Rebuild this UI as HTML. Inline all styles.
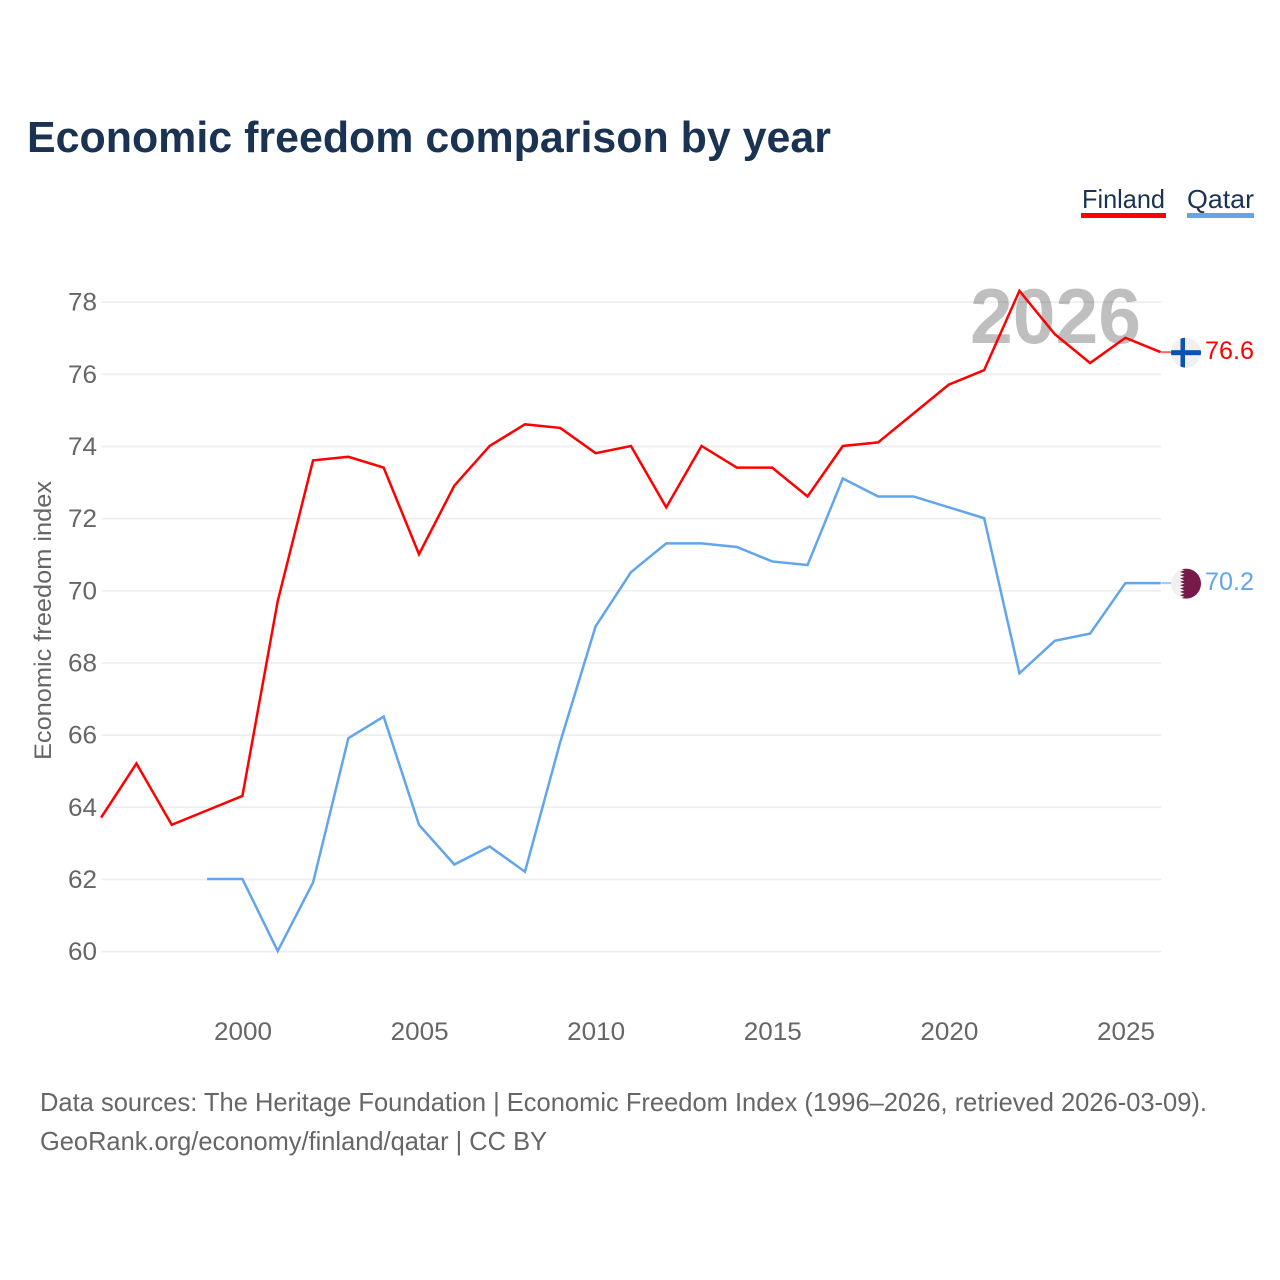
<!DOCTYPE html>
<html lang="en">
<head>
<meta charset="utf-8">
<title>Economic freedom comparison by year</title>
<style>
html,body{margin:0;padding:0;background:#fff;}
svg{display:block;font-family:"Liberation Sans",Arial,sans-serif;}
</style>
</head>
<body>
<svg id="chart" width="1280" height="1280" viewBox="0 0 1280 1280" xmlns="http://www.w3.org/2000/svg">
  <defs>
    <clipPath id="flag-clip"><circle cx="0" cy="0" r="15"></circle></clipPath>
  </defs>
  <rect x="0" y="0" width="1280" height="1280" fill="#ffffff"></rect>
  <text x="27" y="152" font-size="44" font-weight="700" fill="#1a3353" textLength="804" lengthAdjust="spacingAndGlyphs">Economic freedom comparison by year</text>
  <g id="grid"></g>
  <text x="970" y="343" font-size="78" font-weight="700" fill="#000000" fill-opacity="0.25" textLength="171" lengthAdjust="spacingAndGlyphs">2026</text>
  <g id="y-axis"></g>
  <g id="x-axis"></g>
  <text transform="translate(51,620.5) rotate(-90)" text-anchor="middle" font-size="24" fill="#666666" textLength="279" lengthAdjust="spacingAndGlyphs">Economic freedom index</text>
  <g id="series" transform="translate(-0.6,-0.5)"></g>
  <g id="end-markers"></g>
  <g>
    <g>
      <text x="1082" y="208" font-size="26" fill="#1a3353" textLength="83" lengthAdjust="spacingAndGlyphs">Finland</text>
      <rect x="1081" y="213" width="85" height="5" fill="#ff0000"></rect>
    </g>
    <g>
      <text x="1187" y="208" font-size="26" fill="#1a3353" textLength="67" lengthAdjust="spacingAndGlyphs">Qatar</text>
      <rect x="1187" y="213" width="67" height="5" fill="#61a5ec"></rect>
    </g>
  </g>
  <text x="40" y="1111" font-size="26" fill="#666666" textLength="1167" lengthAdjust="spacingAndGlyphs">Data sources: The Heritage Foundation | Economic Freedom Index (1996–2026, retrieved 2026-03-09).</text>
  <text x="40" y="1150" font-size="26" fill="#666666" textLength="507" lengthAdjust="spacingAndGlyphs">GeoRank.org/economy/finland/qatar | CC BY</text>
</svg>
<script>
const years = [1996,1997,1998,1999,2000,2001,2002,2003,2004,2005,2006,2007,2008,2009,2010,2011,2012,2013,2014,2015,2016,2017,2018,2019,2020,2021,2022,2023,2024,2025,2026];
const finlandValues = [63.7,65.2,63.5,63.9,64.3,69.7,73.6,73.7,73.4,71.0,72.9,74.0,74.6,74.5,73.8,74.0,72.3,74.0,73.4,73.4,72.6,74.0,74.1,74.9,75.7,76.1,78.3,77.1,76.3,77.0,76.6];
const qatarValues = [null,null,null,62.0,62.0,60.0,61.9,65.9,66.5,63.5,62.4,62.9,62.2,65.8,69.0,70.5,71.3,71.3,71.2,70.8,70.7,73.1,72.6,72.6,72.3,72.0,67.7,68.6,68.8,70.2,70.2];
const yTicks = [60,62,64,66,68,70,72,74,76,78];
const xTicks = [2000,2005,2010,2015,2020,2025];

const NS = 'http://www.w3.org/2000/svg';
const FINLAND_COLOR = '#ff0000';
const QATAR_COLOR = '#61a5ec';
function xScale(year){ return 243 + (year - 2000) * 35.32; }
function yScale(value){ return 951.6 - (value - 60) * 36.08; }
function make(tag, attrs, parent){
  const el = document.createElementNS(NS, tag);
  for (const k in attrs) el.setAttribute(k, attrs[k]);
  parent.appendChild(el);
  return el;
}

const gridGroup = document.getElementById('grid');
const yGroup = document.getElementById('y-axis');
yTicks.forEach(function(t){
  const line = make('line', {x1:xScale(1996), x2:xScale(2026), y1:yScale(t), y2:yScale(t), stroke:'#eeeeee', 'stroke-width':1.7}, gridGroup);
  
  
  const label = make('text', {x:97, y:yScale(t)+8.5, 'text-anchor':'end', 'font-size':25, fill:'#666666', textLength:29, lengthAdjust:'spacingAndGlyphs'}, yGroup);
  
  
  label.textContent = t;
});

const xGroup = document.getElementById('x-axis');
xTicks.forEach(function(t){
  const label = make('text', {x:xScale(t), y:1040, 'text-anchor':'middle', 'font-size':25, fill:'#666666', textLength:58, lengthAdjust:'spacingAndGlyphs'}, xGroup);
  
  
  label.textContent = t;
});

function drawSeries(values, color, name){
  const pts = [];
  values.forEach(function(v, i){
    if (v !== null) pts.push(xScale(years[i]).toFixed(2) + ',' + yScale(v).toFixed(2));
  });
  const line = make('polyline', {points:pts.join(' '), fill:'none', stroke:color, 'stroke-width':2.5, 'stroke-linejoin':'miter'}, document.getElementById('series'));
  
  
}
drawSeries(finlandValues, FINLAND_COLOR, 'finland');
drawSeries(qatarValues, QATAR_COLOR, 'qatar');

function drawEnd(values, color, name, drawFlag){
  const last = values[values.length - 1];
  const y = yScale(last);
  const group = document.getElementById('end-markers');
  const conn = make('line', {x1:xScale(2026), x2:1172, y1:y-0.5, y2:y-0.5, stroke:color, 'stroke-width':2, 'stroke-opacity':0.6}, group);
  
  
  const flag = make('g', {transform:'translate(1186,' + y + ')', 'clip-path':'url(#flag-clip)'}, group);
  
  
  make('circle', {cx:0, cy:0, r:15, fill:'#f0f0f0'}, flag);
  drawFlag(flag);
  const label = make('text', {x:1205, y:y+6.5, 'font-size':25, fill:color, textLength:49, lengthAdjust:'spacingAndGlyphs'}, group);
  
  
  label.textContent = last.toFixed(1);
}
drawEnd(finlandValues, FINLAND_COLOR, 'finland', function(f){
  make('rect', {x:-5.5, y:-15, width:4.5, height:30, fill:'#0b53b0'}, f);
  make('rect', {x:-15, y:-2.5, width:30, height:5, fill:'#0b53b0'}, f);
});
drawEnd(qatarValues, QATAR_COLOR, 'qatar', function(f){
  let d = 'M15,-15 L-6,-15';
  for (let i = 0; i < 9; i++){
    const top = -15 + i * (30 / 9);
    d += ' L-1.5,' + (top + 15 / 9).toFixed(2) + ' L-6,' + (top + 30 / 9).toFixed(2);
  }
  d += ' L15,15 Z';
  make('path', {d:d, fill:'#761a4a'}, f);
});
</script>
</body>
</html>
